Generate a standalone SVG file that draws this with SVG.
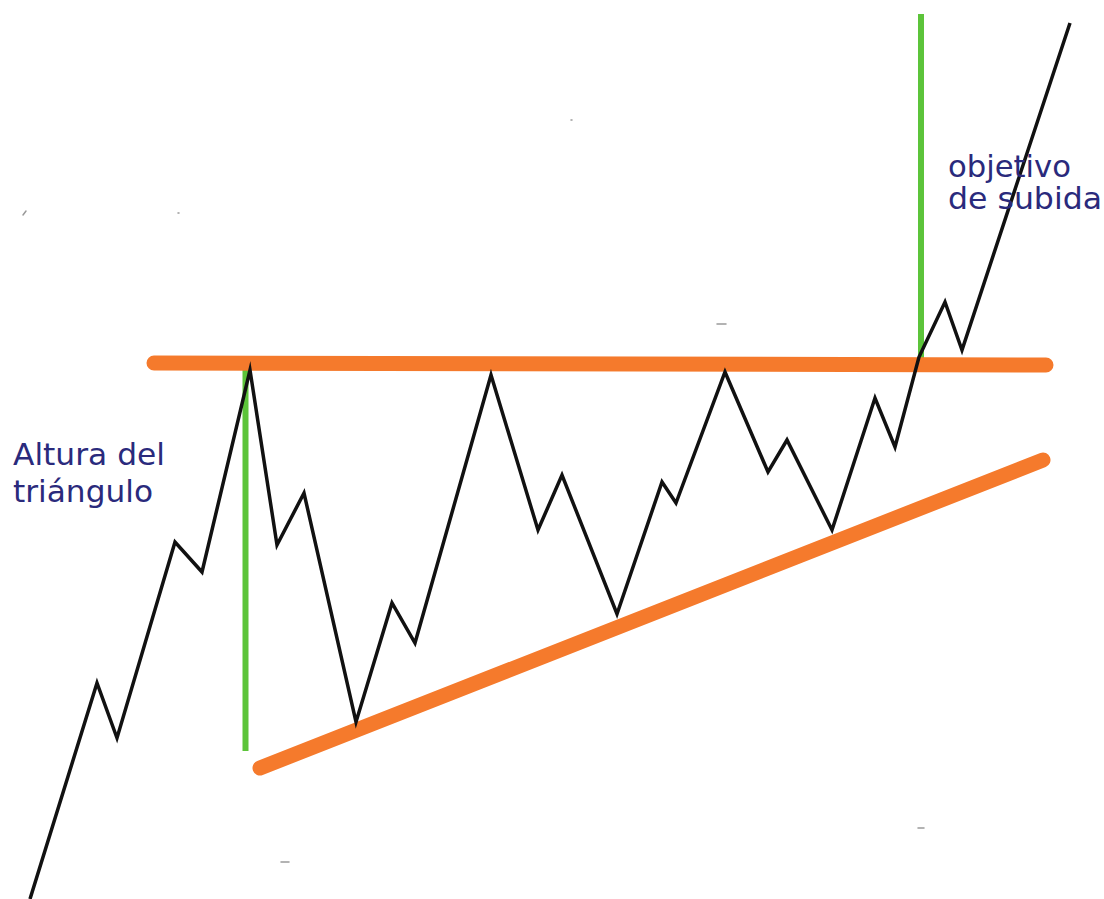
<svg xmlns="http://www.w3.org/2000/svg" width="1104" height="899" viewBox="0 0 1104 899">
  <style>
    .orange { stroke: #f57a2c; stroke-width: 15; stroke-linecap: round; fill: none; }
    .green { stroke: #5cc43a; stroke-width: 6; fill: none; }
    .price { stroke: #111111; stroke-width: 3.5; stroke-linejoin: miter; stroke-miterlimit: 10; fill: none; }
    .label { font-family: "DejaVu Sans", Verdana, sans-serif; font-size: 30px; fill: #2a2a7c; }
    .speck { stroke: #9a9a9a; stroke-width: 1.5; stroke-linecap: round; fill: none; }
  </style>
  <rect x="0" y="0" width="1104" height="899" fill="#ffffff"/>

  <g id="specks">
    <path class="speck" d="M23 215 L26 211"/>
    <path class="speck" d="M178 213 L179 213"/>
    <path class="speck" d="M571 120 L572 120"/>
    <path class="speck" d="M717 324 L726 324"/>
    <path class="speck" d="M281 862 L289 862"/>
    <path class="speck" d="M918 828 L924 828"/>
  </g>

  <g id="connectors">
    <g id="green-height-left">
      <line class="green" x1="245.5" y1="368" x2="245.5" y2="751"/>
    </g>
    <g id="green-target-right">
      <line class="green" x1="921" y1="14" x2="921" y2="358"/>
    </g>
    <g id="resistance-line">
      <line class="orange" x1="154" y1="363" x2="1046" y2="365"/>
    </g>
    <g id="support-line">
      <line class="orange" x1="260" y1="768" x2="1043" y2="460"/>
    </g>
    <g id="price-path">
      <polyline class="price" points="30,899 97,683 117,738 175,542 202,572 250,370 277,545 304,493 356,722 392,603 415,643 491,375 538,530 562,475 617,614 662,482 676,503 725,372 768,472 787,440 832,530 875,398 895,447 919,357 945,302 962,350 1070,23"/>
    </g>
  </g>

  <g id="label-altura">
    <text class="label" x="13" y="465" textLength="152" lengthAdjust="spacingAndGlyphs">Altura del</text>
    <text class="label" x="13" y="502" textLength="140" lengthAdjust="spacingAndGlyphs">triángulo</text>
  </g>

  <g id="label-objetivo">
    <text class="label" x="948" y="177" textLength="123" lengthAdjust="spacingAndGlyphs">objetivo</text>
    <text class="label" x="948" y="209" textLength="154" lengthAdjust="spacingAndGlyphs">de subida</text>
  </g>
</svg>
